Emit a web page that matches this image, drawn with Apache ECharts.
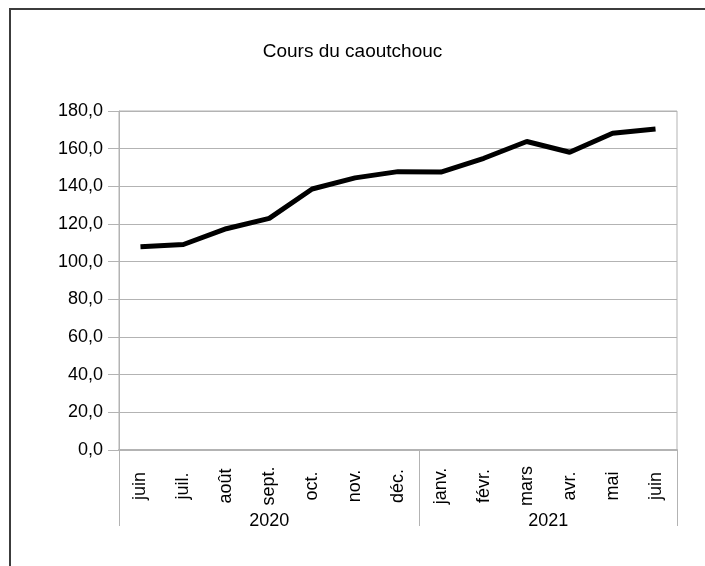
<!DOCTYPE html>
<html>
<head>
<meta charset="utf-8">
<script src="https://cdn.jsdelivr.net/npm/echarts@6/dist/echarts.min.js"></script>
<style>
  html, body { margin: 0; padding: 0; background: #fff; }
  #chart { width: 705px; height: 566px; }
</style>
</head>
<body>
<div id="chart"></div>
<script>
// mois affichés (juin 2020 -> juin 2021)
var months = ["juin", "juil.", "août", "sept.", "oct.", "nov.", "déc.",
  "janv.", "févr.", "mars", "avr.", "mai", "juin"];
// cours
var prices = [107.9, 109.1, 117.5, 123.0, 138.6, 144.5, 147.8,
  147.6, 154.9, 163.8, 158.1, 168.2, 170.4];
// années et nombre de mois par année
var years = ["2020", "2021"];
var monthsPerYear = [7, 6];
var yTicks = [0, 20, 40, 60, 80, 100, 120, 140, 160, 180];

var font = "'Liberation Sans', Arial, sans-serif";
var gridColor = "#b3b3b3";

// bornes et centres des groupes d'années (en unités de catégories)
var bounds = [0];
var centers = [];
for (var i = 0; i < monthsPerYear.length; i++) {
  var start = bounds[bounds.length - 1];
  bounds.push(start + monthsPerYear[i]);
  centers.push(start + monthsPerYear[i] / 2);
}

var chart = echarts.init(document.getElementById("chart"));
chart.setOption({
  animation: false,
  backgroundColor: "#fff",
  title: {
    text: "Cours du caoutchouc",
    left: "center",
    top: 37,
    textStyle: { fontFamily: font, fontSize: 19, fontWeight: "normal", color: "#000" }
  },
  graphic: [{
    type: "rect",
    shape: { x: 10, y: 9, width: 760, height: 620 },
    style: { fill: "none", stroke: "#3c3c3c", lineWidth: 2 }
  }],
  grid: {
    left: 119, right: 28, top: 111, bottom: 116,
    show: true, borderColor: gridColor, borderWidth: 1
  },
  xAxis: [{
    type: "category",
    data: months,
    boundaryGap: true,
    axisLine: { lineStyle: { color: gridColor, width: 2 } },
    axisTick: { interval: 0, length: 52, lineStyle: { color: gridColor, width: 1 } },
    axisLabel: {
      interval: 0, rotate: 90, margin: 36, align: "center", verticalAlign: "middle",
      fontFamily: font, fontSize: 18, color: "#000"
    },
    splitLine: { show: false }
  }, {
    type: "value",
    min: 0,
    max: months.length,
    position: "bottom",
    axisLine: { show: false },
    axisTick: { show: true, customValues: bounds, length: 76, lineStyle: { color: gridColor, width: 1 } },
    axisLabel: {
      customValues: centers,
      margin: 71,
      verticalAlign: "middle",
      fontFamily: font, fontSize: 18, color: "#000",
      formatter: function (v) {
        var k = centers.indexOf(v);
        return k >= 0 ? years[k] : "";
      }
    },
    splitLine: { show: false }
  }],
  yAxis: {
    type: "value",
    min: yTicks[0],
    max: yTicks[yTicks.length - 1],
    interval: 20,
    axisLine: { show: true, lineStyle: { color: gridColor, width: 1 } },
    axisTick: { show: true, length: 11, lineStyle: { color: gridColor } },
    axisLabel: {
      margin: 16, fontFamily: font, fontSize: 18, color: "#000",
      formatter: function (v) { return v.toFixed(1).replace(".", ","); }
    },
    splitLine: { lineStyle: { color: gridColor, width: 1 } }
  },
  series: [{
    type: "line",
    data: prices,
    xAxisIndex: 0,
    showSymbol: false,
    lineStyle: { color: "#000", width: 5 },
    itemStyle: { color: "#000" }
  }]
});
</script>
</body>
</html>
